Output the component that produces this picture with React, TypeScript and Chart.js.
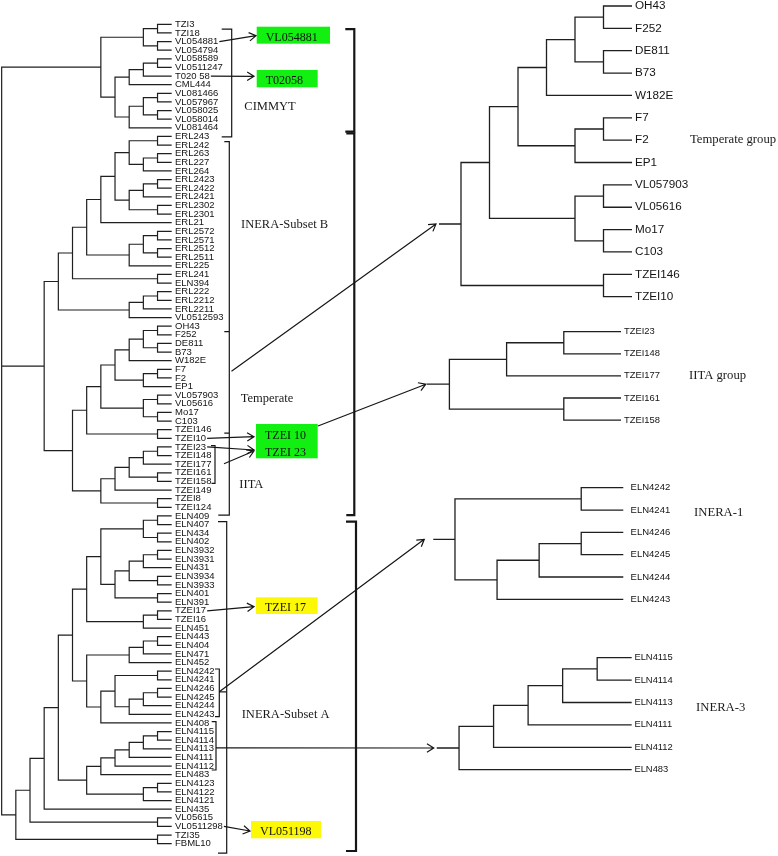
import React, { useEffect, useRef } from 'react';
import { Chart, registerables } from 'chart.js';

Chart.register(...registerables);

type Node = string | any[];

// ---------------- data: clades as [mergeLevel, child, child, ...] ----------------
const cimmytClade: Node = [5,
  [2, [1, 'TZI3', 'TZI18'], [1, 'VL054881', 'VL054794']],
  [4,
    [3, [2, [1, 'VL058589', 'VL0511247'], 'T020 58'], 'CML444'],
    [3, [2, [1, 'VL081466', 'VL057967'], [1, 'VL058025', 'VL058014']], 'VL081464']]];

const ineraBClade: Node = [8,
  [7,
    [6,
      [5,
        [4,
          [3, [1, 'ERL243', 'ERL242'], [2, [1, 'ERL263', 'ERL227'], 'ERL264']],
          [3, [2, [1, 'ERL2423', 'ERL2422'], 'ERL2421'], [1, 'ERL2302', 'ERL2301']]],
        'ERL21'],
      [3, [2, [1, 'ERL2572', 'ERL2571'], [1, 'ERL2512', 'ERL2511']], 'ERL225']],
    [1, 'ERL241', 'ELN394']],
  [3, [2, [1, 'ERL222', 'ERL2212'], 'ERL2211'], 'VL0512593']];

const temperateClade: Node = [6,
  [5,
    [4,
      [3, [2, [1, 'OH43', 'F252'], [1, 'DE811', 'B73']], 'W182E'],
      [2, [1, 'F7', 'F2'], 'EP1']],
    [2, [1, 'VL057903', 'VL05616'], [1, 'Mo17', 'C103']]],
  [1, 'TZEI146', 'TZEI10']];

const iitaCore: Node = [3, [2, [1, 'TZEI23', 'TZEI148'], 'TZEI177'], [1, 'TZEI161', 'TZEI158']];
const iitaClade: Node = [5, [4, iitaCore, 'TZEI149'], [1, 'TZEI8', 'TZEI124']];

const inera1Clade: Node = [4, [1, 'ELN4242', 'ELN4241'], [3, [2, [1, 'ELN4246', 'ELN4245'], 'ELN4244'], 'ELN4243']];
const inera3Clade: Node = [5, [4, [3, [2, [1, 'ELN4115', 'ELN4114'], 'ELN4113'], 'ELN4111'], 'ELN4112'], 'ELN483'];

const elnTopClade: Node = [6,
  [5,
    [2, [1, 'ELN409', 'ELN407'], [1, 'ELN434', 'ELN402']],
    [4, [3, [2, [1, 'ELN3932', 'ELN3931'], 'ELN431'], [1, 'ELN3934', 'ELN3933']], [1, 'ELN401', 'ELN391']]],
  [2, [1, 'TZEI17', 'TZEI16'], 'ELN451']];
const elnMidClade: Node = [6, [3, [2, [1, 'ELN443', 'ELN404'], 'ELN471'], 'ELN452'], [5, inera1Clade, 'ELN408']];
const elnLowClade: Node = [6, inera3Clade, [2, [1, 'ELN4123', 'ELN4122'], 'ELN4121']];
const lowerClade: Node = [11,
  [10, [9, [8, [7, elnTopClade, elnMidClade], elnLowClade], 'ELN435'], [1, 'VL05615', 'VL0511298']],
  [1, 'TZI35', 'FBML10']];

const fullTree: Node = [12, cimmytClade, [9, ineraBClade, [7, temperateClade, iitaClade]], lowerClade];

// ---------------- annotation texts ----------------
const groupLabels = ['CIMMYT', 'INERA-Subset B', 'Temperate', 'IITA', 'INERA-Subset A'];
const panelLabels = ['Temperate group', 'IITA group', 'INERA-1', 'INERA-3'];
const boxTexts = [['VL054881'], ['T02058'], ['TZEI 10', 'TZEI 23'], ['TZEI 17'], ['VL051198']];
const arrowLeaves = ['VL054881', 'T020 58', 'TZEI10', 'TZEI23', 'TZEI17', 'VL0511298'];

// ---------------- layout (positions / styles) ----------------
const W = 778, H = 856;
const LINE = '#1f1f1f';
const GREEN = 'rgb(18,240,18)';
const YELLOW = 'rgb(252,248,6)';

const panels = [
  { key: 'L', tree: fullTree, leaf0: 24.3, leafStep: 8.625, tip: 171.7, levelStep: 14.17, stem: 0, font: 9.5, gap: 3.3, lw: 1.2, label: -1 },
  { key: 'T', tree: temperateClade, leaf0: 6, leafStep: 22.36, tip: 632, levelStep: 28.5, stem: 22, font: 11.7, gap: 3, lw: 1.3, label: 0 },
  { key: 'I', tree: iitaCore, leaf0: 331.7, leafStep: 22.1, tip: 621, levelStep: 57.2, stem: 22.6, font: 9.4, gap: 3, lw: 1.3, label: 1 },
  { key: 'A1', tree: inera1Clade, leaf0: 487.7, leafStep: 22.33, tip: 623.3, levelStep: 42.08, stem: 21.7, font: 9.5, gap: 7.3, lw: 1.3, label: 2 },
  { key: 'A3', tree: inera3Clade, leaf0: 657.7, leafStep: 22.4, tip: 631.7, levelStep: 34.53, stem: 22.3, font: 9.4, gap: 2.7, lw: 1.3, label: 3 },
];

const groupLabelPos = [[244.3, 106.7], [241, 225], [240.7, 399], [239.3, 484.3], [241.7, 714.3]];
const panelLabelPos = [[690, 140], [689, 376], [694, 513], [696, 708]];

const boxLayout = [
  { x: 256.7, y: 26.7, w: 73.3, h: 17, color: GREEN, ty: [38.3] },
  { x: 256.7, y: 70, w: 61, h: 17.3, color: GREEN, ty: [81.3] },
  { x: 256, y: 424, w: 61.7, h: 34.3, color: GREEN, ty: [435.8, 452.8] },
  { x: 256, y: 597.3, w: 61.7, h: 16.7, color: YELLOW, ty: [608] },
  { x: 251, y: 821, w: 70, h: 17.3, color: YELLOW, ty: [832.3] },
];
const leafArrowTips = [[256, 35.7], [254, 76.3], [254, 436.7], [254, 450], [254, 606.7], [250, 831]];

// brackets (extent in left-tree leaf index units)
const innerBrackets = [
  { x: 231.7, from: 0.55, to: 13.05, top: 10, bottom: 10, marks: [] as number[] },
  { x: 229.3, from: 13.61, to: 56.9, top: 5, bottom: 11, marks: [35.64, 47.4] },
  { x: 215, from: 48.86, to: 53.22, top: 4, bottom: 3.5, marks: [] },
  { x: 219.3, from: 74.75, to: 80.28, top: 4.3, bottom: 4.3, marks: [] },
  { x: 216, from: 80.86, to: 86.46, top: 4.3, bottom: 4.3, marks: [] },
  { x: 226.7, from: 57.67, to: 96.1, top: 8.7, bottom: 8.7, marks: [] },
];
const outerBrackets = [
  { x: 354.3, from: 0.55, to: 12.45, top: 9, bottom: 9 },
  { x: 354.3, from: 12.64, to: 56.9, top: 8, bottom: 8 },
  { x: 356, from: 57.67, to: 95.85, top: 10, bottom: 10 },
];
const panelArrows = [
  { from: [231.5, 371.3], panel: 'T', gap: 3 },
  { from: [318, 426], panel: 'I', gap: 1 },
  { from: [219.3, 691.7], panel: 'A1', gap: 9 },
  { from: [216, 747.9], panel: 'A3', gap: 3 },
];
const extraArrows = [{ from: [224, 463.7], to: [254, 451] }];

const GAP = { x: NaN, y: NaN };

function buildTree(tree: Node) {
  const pts: { x: number; y: number }[] = [];
  const leaves: string[] = [];
  function walk(n: Node): { y: number; h: number } {
    if (typeof n === 'string') {
      const i = leaves.length;
      leaves.push(n);
      return { y: i, h: 0 };
    }
    const [h, ...kids] = n as any[];
    const cs = kids.map(walk);
    const a = cs[0], b = cs[cs.length - 1];
    pts.push({ x: a.h, y: a.y }, { x: h, y: a.y }, { x: h, y: b.y }, { x: b.h, y: b.y }, GAP);
    for (const c of cs.slice(1, -1)) pts.push({ x: c.h, y: c.y }, { x: h, y: c.y }, GAP);
    return { y: (a.y + b.y) / 2, h };
  }
  const root = walk(tree);
  return { pts, leaves, root };
}

function arrow(ctx: CanvasRenderingContext2D, x0: number, y0: number, x1: number, y1: number) {
  ctx.beginPath();
  ctx.moveTo(x0, y0);
  ctx.lineTo(x1, y1);
  const ang = Math.atan2(y1 - y0, x1 - x0);
  const L = 8, spread = 0.55;
  ctx.moveTo(x1 - L * Math.cos(ang - spread), y1 - L * Math.sin(ang - spread));
  ctx.lineTo(x1, y1);
  ctx.lineTo(x1 - L * Math.cos(ang + spread), y1 - L * Math.sin(ang + spread));
  ctx.stroke();
}

export default function App() {
  const ref = useRef<HTMLCanvasElement>(null);
  useEffect(() => {
    const canvas = ref.current!;
    const built = panels.map((p) => {
      const t = buildTree(p.tree);
      const pts = t.pts.slice();
      if (p.stem > 0) pts.push({ x: t.root.h, y: t.root.y }, { x: t.root.h + p.stem / p.levelStep, y: t.root.y });
      return { p, ...t, pts };
    });

    const scales: any = {};
    for (const p of panels) {
      const xr = W / p.levelStep;
      const xmax = p.tip / p.levelStep;
      scales['x' + p.key] = { type: 'linear', display: false, reverse: true, min: xmax - xr, max: xmax, bounds: 'data', grid: { display: false } };
      const yr = H / p.leafStep;
      const ymin = -p.leaf0 / p.leafStep;
      scales['y' + p.key] = { type: 'linear', display: false, reverse: true, min: ymin, max: ymin + yr, bounds: 'data', grid: { display: false } };
    }

    const datasets = built.map((b) => ({
      data: b.pts,
      xAxisID: 'x' + b.p.key,
      yAxisID: 'y' + b.p.key,
      borderColor: LINE,
      borderWidth: b.p.lw,
      pointRadius: 0,
      pointHitRadius: 0,
      fill: false,
      tension: 0,
      spanGaps: false,
      borderJoinStyle: 'miter' as const,
      borderCapStyle: 'butt' as const,
    }));

    const textPlugin = {
      id: 'dendroText',
      afterDatasetsDraw(chart: any) {
        const ctx: CanvasRenderingContext2D = chart.ctx;
        ctx.save();
        const ends: Record<string, { x: number; y: number }> = {};
        const stems: Record<string, { x: number; y: number }> = {};
        for (const b of built) {
          const xs = chart.scales['x' + b.p.key];
          const ys = chart.scales['y' + b.p.key];
          ctx.font = `${b.p.font}px "Liberation Sans", Arial, sans-serif`;
          ctx.fillStyle = '#141414';
          ctx.textBaseline = 'middle';
          ctx.textAlign = 'left';
          const x0 = xs.getPixelForValue(0) + b.p.gap;
          b.leaves.forEach((name, i) => {
            const y = ys.getPixelForValue(i);
            ctx.fillText(name, x0, y);
            if (b.p.key === 'L') ends[name] = { x: x0 + ctx.measureText(name).width, y };
          });
          stems[b.p.key] = {
            x: xs.getPixelForValue(b.root.h + b.p.stem / b.p.levelStep),
            y: ys.getPixelForValue(b.root.y),
          };
          if (b.p.label >= 0) {
            ctx.font = '12.7px "Liberation Serif", "Times New Roman", serif';
            ctx.fillStyle = '#1a1a1a';
            const [lx, ly] = panelLabelPos[b.p.label];
            ctx.fillText(panelLabels[b.p.label], lx, ly);
          }
        }
        const yL = (v: number) => chart.scales.yL.getPixelForValue(v);

        // group labels
        ctx.font = '12.5px "Liberation Serif", "Times New Roman", serif';
        ctx.fillStyle = '#1a1a1a';
        groupLabels.forEach((t, i) => ctx.fillText(t, groupLabelPos[i][0], groupLabelPos[i][1]));

        // boxes
        boxLayout.forEach((bx, i) => {
          ctx.fillStyle = bx.color;
          ctx.fillRect(bx.x, bx.y, bx.w, bx.h);
          ctx.fillStyle = '#111';
          ctx.font = '12px "Liberation Serif", "Times New Roman", serif';
          boxTexts[i].forEach((t, j) => ctx.fillText(t, bx.x + 9, bx.ty[j]));
        });

        ctx.strokeStyle = '#161616';
        ctx.lineCap = 'butt';
        ctx.lineJoin = 'miter';
        // inner brackets
        ctx.lineWidth = 1.2;
        for (const br of innerBrackets) {
          const y0 = yL(br.from), y1 = yL(br.to);
          ctx.beginPath();
          ctx.moveTo(br.x - br.top, y0);
          ctx.lineTo(br.x, y0);
          ctx.lineTo(br.x, y1);
          ctx.lineTo(br.x - br.bottom, y1);
          for (const m of br.marks) {
            ctx.moveTo(br.x - 5, yL(m));
            ctx.lineTo(br.x, yL(m));
          }
          ctx.stroke();
        }
        // outer brackets
        ctx.lineWidth = 2.2;
        for (const br of outerBrackets) {
          const y0 = yL(br.from), y1 = yL(br.to);
          ctx.beginPath();
          ctx.moveTo(br.x - br.top, y0);
          ctx.lineTo(br.x, y0);
          ctx.lineTo(br.x, y1);
          ctx.lineTo(br.x - br.bottom, y1);
          ctx.stroke();
        }
        // arrows
        ctx.lineWidth = 1.2;
        arrowLeaves.forEach((leaf, i) => {
          const e = ends[leaf];
          if (!e) return;
          arrow(ctx, e.x + 1, e.y, leafArrowTips[i][0], leafArrowTips[i][1]);
        });
        for (const a of extraArrows) arrow(ctx, a.from[0], a.from[1], a.to[0], a.to[1]);
        for (const a of panelArrows) {
          const s = stems[a.panel];
          arrow(ctx, a.from[0], a.from[1], s.x - a.gap, s.y);
        }
        // INERA-1 bracket connector tick
        ctx.beginPath();
        ctx.moveTo(innerBrackets[3].x, yL(77.4));
        ctx.lineTo(226.7, yL(77.4));
        ctx.stroke();
        ctx.restore();
      },
    };

    const chart = new Chart(canvas, {
      type: 'line',
      data: { datasets: datasets as any },
      options: {
        responsive: false,
        animation: false,
        devicePixelRatio: 1,
        events: [],
        layout: { padding: 0 },
        plugins: { legend: { display: false }, tooltip: { enabled: false }, title: { display: false } },
        scales,
      },
      plugins: [textPlugin],
    });
    return () => chart.destroy();
  }, []);

  return (
    <div style={{ position: 'absolute', left: 0, top: 0, width: W, height: H, background: '#fff' }}>
      <canvas ref={ref} width={W} height={H} style={{ display: 'block' }} />
    </div>
  );
}
